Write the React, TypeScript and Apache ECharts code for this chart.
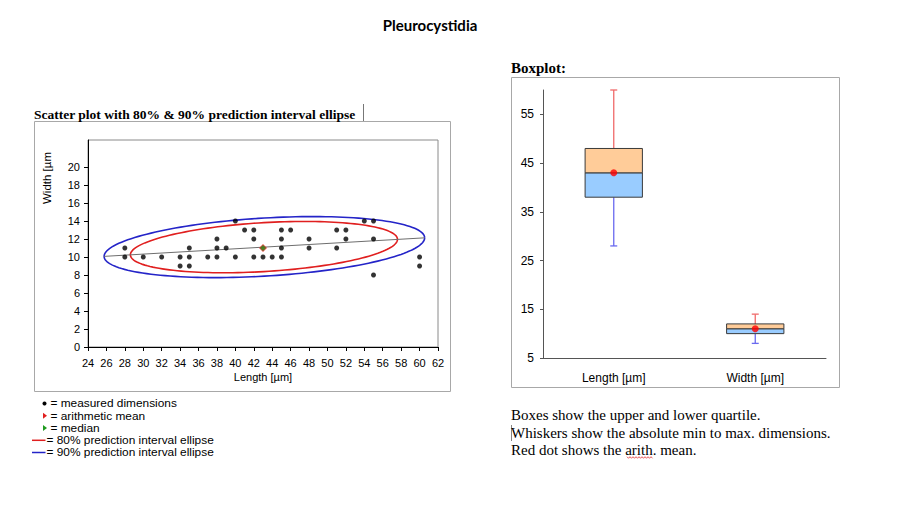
import React, { useEffect, useRef } from "react";
import * as echarts from "echarts";

// ---------- data ----------
const chartTitle = "Pleurocystidia";
const scatterHeading = "Scatter plot with 80% & 90% prediction interval ellipse";
const boxHeading = "Boxplot:";

// measured dimensions (length, width) in µm
const lengths = [28, 28, 30, 32, 34, 34, 35, 35, 35, 37, 38, 38, 38, 39, 40, 40, 41, 42, 42, 42, 43, 44, 45, 45, 45, 45, 46, 48, 48, 51, 51, 52, 52, 54, 55, 55, 55, 60, 60];
const widths = [11, 10, 10, 10, 10, 9, 11, 10, 9, 10, 12, 11, 10, 11, 14, 10, 13, 13, 12, 10, 10, 10, 13, 12, 11, 10, 13, 12, 11, 13, 11, 13, 12, 14, 14, 12, 8, 10, 9];

const meanPoint = [43, 11];
const medianPoint = [43, 11];

// regression / major axis line end points
const trendLine = [
  [25.75, 10.07],
  [60.55, 12.13],
];

// prediction ellipses: [centerX, centerY, halfMajorDX, halfMajorDY, halfVertical]
const ellipse80 = [43.1, 11.1, 14.5, 0.86, 2.72];
const ellipse90 = [43.15, 11.1, 17.4, 1.03, 3.23];

const xTicks = [24, 26, 28, 30, 32, 34, 36, 38, 40, 42, 44, 46, 48, 50, 52, 54, 56, 58, 60, 62];
const yTicks = [0, 2, 4, 6, 8, 10, 12, 14, 16, 18, 20];

// boxplot
const boxCategories = ["Length [µm]", "Width [µm]"];
const boxMin = [28, 8];
const boxQ1 = [38, 10];
const boxMedian = [43, 11];
const boxQ3 = [48, 12];
const boxMax = [60, 14];
const boxMean = [43, 11];
const boxYTicks = [5, 15, 25, 35, 45, 55];

const legendTexts = [
  "= measured dimensions",
  "= arithmetic mean",
  "= median",
  "= 80% prediction interval ellipse",
  "= 90% prediction interval ellipse",
];

const noteLines = [
  "Boxes show the upper and lower quartile.",
  "Whiskers show the absolute min to max. dimensions.",
  "Red dot shows the arith. mean.",
];

// ---------- styles ----------
const SANS = "'Liberation Sans', Arial, sans-serif";
const SERIF = "'Liberation Serif', 'Times New Roman', serif";
const RED = "#e01f1f";
const BLUE = "#2424c8";

function ellipseRenderer(color: string) {
  return (params: any, api: any) => {
    const cx = api.value(0);
    const cy = api.value(1);
    const ax = api.value(2);
    const ay = api.value(3);
    const b = api.value(4);
    const c = api.coord([cx, cy]);
    const pa = api.coord([cx + ax, cy + ay]);
    const pb = api.coord([cx, cy + b]);
    const A = [pa[0] - c[0], pa[1] - c[1]];
    const B = [pb[0] - c[0], pb[1] - c[1]];
    const pts: number[][] = [];
    const n = 160;
    for (let k = 0; k <= n; k++) {
      const t = (k / n) * Math.PI * 2;
      pts.push([
        c[0] + Math.cos(t) * A[0] + Math.sin(t) * B[0],
        c[1] + Math.cos(t) * A[1] + Math.sin(t) * B[1],
      ]);
    }
    return {
      type: "polyline",
      shape: { points: pts },
      style: { stroke: color, fill: null, lineWidth: 1.6 },
    };
  };
}

function boxRenderer(params: any, api: any) {
  const i = api.value(0);
  const pMin = api.coord([i, api.value(1)]);
  const pQ1 = api.coord([i, api.value(2)]);
  const pMed = api.coord([i, api.value(3)]);
  const pQ3 = api.coord([i, api.value(4)]);
  const pMax = api.coord([i, api.value(5)]);
  const band = api.size([1, 0])[0];
  const bw = band * 0.405;
  const x0 = pMed[0] - bw / 2;
  const cap = 3.5;
  const upColor = "#f06a6a";
  const lowColor = "#6a6af0";
  return {
    type: "group",
    children: [
      {
        type: "line",
        shape: { x1: pMed[0], y1: pQ3[1], x2: pMed[0], y2: pMax[1] },
        style: { stroke: upColor, lineWidth: 1.3 },
      },
      {
        type: "line",
        shape: { x1: pMed[0] - cap, y1: pMax[1], x2: pMed[0] + cap, y2: pMax[1] },
        style: { stroke: upColor, lineWidth: 1.3 },
      },
      {
        type: "line",
        shape: { x1: pMed[0], y1: pQ1[1], x2: pMed[0], y2: pMin[1] },
        style: { stroke: lowColor, lineWidth: 1.3 },
      },
      {
        type: "line",
        shape: { x1: pMed[0] - cap, y1: pMin[1], x2: pMed[0] + cap, y2: pMin[1] },
        style: { stroke: lowColor, lineWidth: 1.3 },
      },
      {
        type: "rect",
        shape: { x: x0, y: pMed[1], width: bw, height: pQ1[1] - pMed[1] },
        style: { fill: "#99ccff", stroke: "#3a3a3a", lineWidth: 1 },
      },
      {
        type: "rect",
        shape: { x: x0, y: pQ3[1], width: bw, height: pMed[1] - pQ3[1] },
        style: { fill: "#ffcc99", stroke: "#3a3a3a", lineWidth: 1 },
      },
    ],
  };
}

function wavy(x1: number, x2: number, y: number) {
  const pts: number[][] = [];
  let up = true;
  for (let x = x1; x <= x2; x += 1.5) {
    pts.push([x, up ? y - 0.8 : y + 0.8]);
    up = !up;
  }
  return pts;
}

export default function App() {
  const ref = useRef<HTMLDivElement>(null);

  useEffect(() => {
    if (!ref.current) return;
    const chart = echarts.init(ref.current, undefined, { renderer: "svg" });

    const scatterData = lengths.map((l, i) => [l, widths[i]]);
    const boxData = boxCategories.map((_, i) => [i, boxMin[i], boxQ1[i], boxMedian[i], boxQ3[i], boxMax[i]]);
    const meanData = boxCategories.map((c, i) => [i, boxMean[i]]);

    const legendY = [403.5, 415.8, 428, 440.3, 452.5];

    const graphic: any[] = [
      // frames
      {
        type: "rect",
        shape: { x: 34.5, y: 121.5, width: 416, height: 270 },
        style: { fill: "none", stroke: "#a8a8a8", lineWidth: 1 },
        z: 0,
      },
      {
        type: "rect",
        shape: { x: 511.5, y: 77.5, width: 328, height: 310 },
        style: { fill: "none", stroke: "#a8a8a8", lineWidth: 1 },
        z: 0,
      },
      // headings
      {
        type: "text",
        x: 34,
        y: 114,
        style: { text: scatterHeading, font: `bold 13.5px ${SERIF}`, fill: "#000", verticalAlign: "middle" },
      },
      {
        type: "line",
        shape: { x1: 363.5, y1: 104, x2: 363.5, y2: 121 },
        style: { stroke: "#777", lineWidth: 1 },
      },
      {
        type: "text",
        x: 511,
        y: 68,
        style: { text: boxHeading, font: `bold 15px ${SERIF}`, fill: "#000", verticalAlign: "middle" },
      },
      // y axis name of scatter (rotated)
      {
        type: "text",
        x: 47,
        y: 204,
        rotation: Math.PI / 2,
        style: { text: "Width [µm", font: `11.5px ${SANS}`, fill: "#000", align: "left", verticalAlign: "middle" },
      },
      // legend markers
      { type: "circle", shape: { cx: 44.5, cy: legendY[0], r: 2 }, style: { fill: "#000" } },
      {
        type: "polygon",
        shape: { points: [[43, legendY[1] - 3], [43, legendY[1] + 3], [47, legendY[1]]] },
        style: { fill: RED },
      },
      {
        type: "polygon",
        shape: { points: [[43, legendY[2] - 3], [43, legendY[2] + 3], [47, legendY[2]]] },
        style: { fill: "#1f9a1f" },
      },
      { type: "line", shape: { x1: 32, y1: legendY[3], x2: 45.5, y2: legendY[3] }, style: { stroke: RED, lineWidth: 1.5 } },
      { type: "line", shape: { x1: 32, y1: legendY[4], x2: 45.5, y2: legendY[4] }, style: { stroke: BLUE, lineWidth: 1.5 } },
      // note text cursor and spelling underline
      { type: "line", shape: { x1: 511.5, y1: 425, x2: 511.5, y2: 441 }, style: { stroke: "#666", lineWidth: 0.8 } },
      { type: "polyline", shape: { points: wavy(627, 653, 457.5) }, style: { stroke: "#e03030", lineWidth: 0.8, fill: null } },
    ];

    legendTexts.forEach((t, i) => {
      graphic.push({
        type: "text",
        x: i < 3 ? 50.5 : 46.5,
        y: legendY[i],
        scaleX: 1.08,
        style: { text: t, font: `11px ${SANS}`, fill: "#000", verticalAlign: "middle" },
      });
    });

    noteLines.forEach((t, i) => {
      graphic.push({
        type: "text",
        x: 511,
        y: 415 + i * 17.5,
        style: { text: t, font: `15px ${SERIF}`, fill: "#000", verticalAlign: "middle" },
      });
    });

    const option: any = {
      animation: false,
      backgroundColor: "#fff",
      title: {
        text: chartTitle,
        left: 425,
        top: 12,
        textAlign: "center",
        textStyle: { fontFamily: "Lato, 'Open Sans', sans-serif", fontWeight: "bold", fontSize: 15, color: "#000" },
      },
      grid: [
        {
          left: 88,
          right: 462,
          top: 140,
          bottom: 159,
          show: true,
          borderColor: "#8a8a8a",
          borderWidth: 1,
          backgroundColor: "transparent",
        },
        { left: 543, right: 74, top: 90, bottom: 148 },
      ],
      xAxis: [
        {
          gridIndex: 0,
          type: "value",
          min: 24,
          max: 62,
          interval: 2,
          name: "Length [µm]",
          nameLocation: "middle",
          nameGap: 24,
          nameTextStyle: { fontFamily: SANS, fontSize: 11, color: "#000" },
          axisLine: { lineStyle: { color: "#000", width: 1 } },
          axisTick: { show: true, length: 4, lineStyle: { color: "#000" } },
          axisLabel: { fontFamily: SANS, fontSize: 11, color: "#000", margin: 10, customValues: xTicks },
          splitLine: { show: false },
        },
        {
          gridIndex: 1,
          type: "category",
          data: boxCategories,
          boundaryGap: true,
          axisLine: { lineStyle: { color: "#555", width: 1 } },
          axisTick: { show: false },
          axisLabel: { fontFamily: SANS, fontSize: 12, color: "#000", margin: 14 },
          splitLine: { show: false },
        },
      ],
      yAxis: [
        {
          gridIndex: 0,
          type: "value",
          min: 0,
          max: 23,
          axisLine: { show: true, lineStyle: { color: "#000", width: 1 } },
          axisTick: { show: true, length: 4, lineStyle: { color: "#000" }, customValues: yTicks },
          axisLabel: { fontFamily: SANS, fontSize: 11, color: "#000", margin: 8, customValues: yTicks },
          splitLine: { show: false },
        },
        {
          gridIndex: 1,
          type: "value",
          min: 5,
          max: 60,
          axisLine: { show: true, lineStyle: { color: "#555", width: 1 } },
          axisTick: { show: true, length: 3, lineStyle: { color: "#555" }, customValues: boxYTicks },
          axisLabel: { fontFamily: SANS, fontSize: 12, color: "#000", margin: 9, customValues: boxYTicks },
          splitLine: { show: false },
        },
      ],
      series: [
        {
          type: "custom",
          name: "90% ellipse",
          xAxisIndex: 0,
          yAxisIndex: 0,
          renderItem: ellipseRenderer(BLUE),
          data: [ellipse90],
          z: 2,
        },
        {
          type: "custom",
          name: "80% ellipse",
          xAxisIndex: 0,
          yAxisIndex: 0,
          renderItem: ellipseRenderer(RED),
          data: [ellipse80],
          z: 2,
        },
        {
          type: "line",
          name: "trend",
          xAxisIndex: 0,
          yAxisIndex: 0,
          data: trendLine,
          symbol: "none",
          lineStyle: { color: "#6e6e6e", width: 1 },
          z: 3,
        },
        {
          type: "scatter",
          name: "measured dimensions",
          xAxisIndex: 0,
          yAxisIndex: 0,
          data: scatterData,
          symbol: "circle",
          symbolSize: 5,
          itemStyle: { color: "#000" },
          z: 4,
        },
        {
          type: "scatter",
          name: "arithmetic mean",
          xAxisIndex: 0,
          yAxisIndex: 0,
          data: [meanPoint],
          symbol: "diamond",
          symbolSize: 8,
          itemStyle: { color: RED },
          z: 5,
        },
        {
          type: "scatter",
          name: "median",
          xAxisIndex: 0,
          yAxisIndex: 0,
          data: [medianPoint],
          symbol: "diamond",
          symbolSize: 6,
          itemStyle: { color: "#2a8a1a" },
          z: 6,
        },
        {
          type: "custom",
          name: "boxplot",
          xAxisIndex: 1,
          yAxisIndex: 1,
          renderItem: boxRenderer,
          data: boxData,
          z: 3,
        },
        {
          type: "scatter",
          name: "mean",
          xAxisIndex: 1,
          yAxisIndex: 1,
          data: meanData,
          symbol: "circle",
          symbolSize: 7,
          itemStyle: { color: "#ff0000" },
          z: 5,
        },
      ],
      graphic,
    };

    chart.setOption(option);
    return () => chart.dispose();
  }, []);

  return (
    <div
      ref={ref}
      style={{ position: "absolute", left: 0, top: 0, width: 900, height: 506, background: "#fff" }}
    />
  );
}
